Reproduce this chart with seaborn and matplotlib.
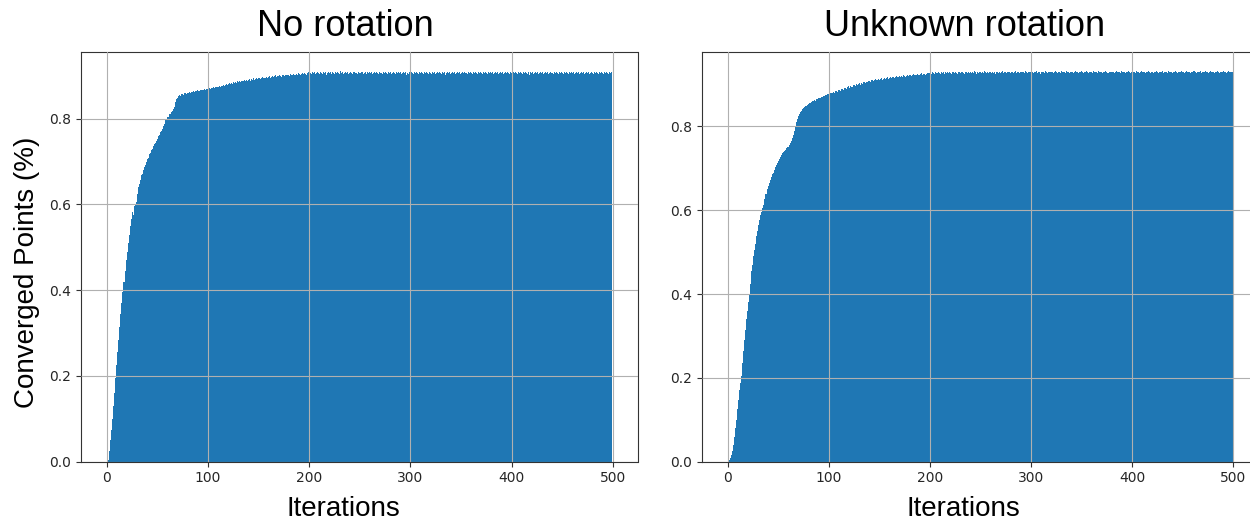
import numpy as np
import matplotlib
matplotlib.use("Agg")
import matplotlib.pyplot as plt
import seaborn as sns

# x positions of the bars (iteration index)
iterations = np.arange(500)

# share of converged points, in per-mille (20 bars per row)
no_rotation_pm = [
    0, 0, 5, 25, 50, 75, 100, 130, 160, 195, 225, 255, 285, 315, 345, 370, 395, 420, 445, 470,
    490, 510, 530, 550, 565, 582, 575, 597, 602, 606, 625, 641, 648, 657, 668, 671, 681, 687, 693, 698,
    705, 709, 717, 720, 727, 729, 736, 741, 744, 749, 752, 759, 761, 769, 771, 776, 783, 787, 796, 799,
    803, 805, 811, 812, 816, 819, 823, 827, 839, 845, 849, 853, 855, 854, 857, 858, 856, 859, 860, 858,
    861, 860, 862, 861, 863, 862, 864, 863, 865, 864, 866, 865, 864, 867, 866, 868, 867, 869, 868, 870,
    869, 871, 870, 872, 871, 873, 872, 874, 873, 875, 874, 876, 875, 877, 876, 878, 877, 879, 880, 879,
    881, 883, 880, 884, 882, 885, 883, 886, 884, 887, 885, 888, 886, 889, 887, 888, 890, 889, 891, 888,
    890, 892, 889, 893, 891, 894, 890, 893, 895, 892, 894, 896, 893, 895, 897, 894, 896, 895, 898, 896,
    897, 899, 896, 898, 900, 897, 899, 901, 898, 900, 899, 902, 900, 898, 901, 903, 900, 902, 901, 903,
    902, 900, 904, 901, 903, 905, 902, 904, 903, 906, 904, 902, 905, 907, 904, 906, 905, 903, 906, 908,
    905, 907, 904, 908, 906, 909, 905, 907, 910, 906, 904, 908, 907, 905, 909, 906, 908, 903, 907, 909,
    906, 908, 905, 910, 907, 904, 908, 906, 909, 907, 905, 911, 906, 908, 904, 907, 909, 906, 908, 905,
    907, 909, 906, 904, 908, 910, 906, 907, 905, 909, 907, 906, 910, 908, 904, 907, 909, 905, 908, 906,
    909, 906, 908, 905, 907, 910, 906, 908, 907, 904, 909, 907, 905, 908, 906, 910, 907, 905, 909, 906,
    908, 905, 907, 909, 906, 904, 908, 907, 910, 906, 908, 905, 907, 909, 906, 908, 903, 907, 905, 909,
    906, 908, 907, 905, 909, 906, 910, 907, 905, 908, 906, 909, 907, 904, 908, 906, 909, 907, 905, 908,
    907, 904, 909, 906, 908, 905, 907, 910, 906, 908, 907, 905, 909, 906, 908, 901, 907, 909, 906, 908,
    905, 907, 909, 906, 908, 904, 907, 910, 906, 908, 905, 907, 909, 906, 908, 907, 905, 909, 906, 908,
    907, 905, 908, 906, 910, 907, 904, 908, 906, 909, 907, 905, 908, 906, 910, 907, 905, 908, 906, 909,
    906, 908, 905, 907, 909, 906, 908, 904, 907, 910, 906, 908, 905, 907, 909, 906, 908, 907, 905, 909,
    907, 905, 908, 906, 909, 907, 904, 908, 906, 910, 907, 905, 908, 906, 909, 907, 905, 908, 902, 909,
    906, 908, 905, 907, 909, 906, 908, 905, 907, 910, 906, 908, 905, 907, 909, 906, 908, 904, 907, 909,
    907, 905, 908, 906, 909, 907, 905, 908, 906, 910, 907, 904, 908, 906, 909, 907, 905, 908, 906, 909,
    906, 908, 905, 907, 909, 906, 908, 905, 907, 910, 906, 908, 904, 907, 909, 906, 908, 905, 907, 909,
    907, 905, 908, 906, 909, 907, 905, 908, 906, 910, 907, 905, 908, 906, 909, 907, 904, 908, 906, 909,
]

unknown_rotation_pm = [
    0, 0, 3, 8, 15, 25, 40, 60, 80, 100, 125, 148, 170, 188, 205, 235, 265, 290, 315, 340,
    360, 380, 400, 425, 455, 470, 490, 505, 520, 538, 550, 565, 578, 588, 596, 605, 612, 628, 640, 650,
    658, 665, 672, 680, 686, 690, 697, 704, 708, 712, 718, 722, 728, 732, 736, 740, 742, 745, 748, 750,
    752, 756, 760, 765, 772, 780, 790, 800, 810, 818, 825, 830, 835, 838, 841, 844, 846, 848, 850, 852,
    853, 855, 857, 858, 860, 861, 863, 862, 865, 866, 867, 869, 868, 871, 870, 873, 872, 875, 874, 877,
    878, 876, 880, 879, 881, 883, 880, 884, 885, 883, 886, 888, 885, 889, 890, 887, 891, 893, 890, 894,
    896, 893, 897, 895, 898, 900, 897, 901, 899, 902, 903, 900, 904, 902, 905, 906, 903, 907, 905, 908,
    909, 906, 910, 912, 908, 911, 913, 910, 912, 914, 911, 913, 915, 912, 914, 916, 913, 915, 917, 914,
    916, 918, 915, 917, 919, 916, 918, 920, 917, 919, 921, 918, 920, 919, 922, 920, 918, 921, 923, 920,
    922, 924, 921, 923, 925, 922, 924, 923, 926, 924, 922, 925, 927, 924, 926, 925, 923, 926, 928, 927,
    927, 929, 926, 930, 928, 925, 929, 927, 931, 928, 926, 930, 928, 929, 926, 931, 928, 930, 927, 929,
    928, 926, 930, 929, 927, 931, 928, 925, 929, 930, 927, 929, 931, 928, 926, 930, 929, 927, 931, 928,
    929, 927, 930, 928, 932, 929, 926, 930, 928, 931, 929, 927, 930, 928, 932, 929, 927, 930, 928, 931,
    929, 927, 931, 928, 930, 926, 929, 931, 928, 930, 927, 929, 932, 928, 930, 929, 927, 931, 929, 930,
    928, 931, 929, 927, 930, 932, 928, 930, 929, 927, 931, 929, 930, 928, 932, 929, 927, 930, 929, 931,
    928, 930, 927, 931, 929, 932, 928, 930, 929, 926, 931, 929, 930, 928, 932, 930, 927, 931, 929, 930,
    929, 931, 928, 930, 932, 929, 927, 931, 930, 928, 932, 929, 931, 930, 928, 932, 929, 931, 927, 930,
    929, 931, 928, 930, 932, 929, 931, 928, 930, 929, 932, 930, 928, 931, 929, 932, 930, 928, 931, 929,
    930, 928, 932, 929, 931, 930, 928, 932, 929, 931, 930, 927, 931, 929, 932, 930, 928, 931, 929, 930,
    929, 931, 928, 930, 932, 929, 931, 930, 928, 932, 929, 931, 930, 928, 931, 929, 932, 930, 928, 931,
    929, 931, 930, 928, 932, 929, 931, 928, 930, 932, 929, 931, 930, 927, 931, 929, 932, 930, 928, 931,
    930, 928, 931, 929, 932, 930, 928, 931, 929, 930, 932, 928, 931, 929, 930, 928, 932, 929, 931, 930,
    928, 931, 929, 932, 930, 928, 931, 929, 930, 932, 929, 931, 928, 930, 932, 929, 931, 930, 928, 931,
    929, 932, 930, 928, 931, 929, 930, 932, 928, 931, 929, 930, 932, 929, 931, 928, 930, 932, 929, 931,
    930, 928, 931, 929, 932, 930, 928, 931, 929, 930, 932, 929, 931, 928, 930, 932, 929, 931, 930, 929,
]

no_rotation = np.array(no_rotation_pm) / 1000
unknown_rotation = np.array(unknown_rotation_pm) / 1000

titles = ["No rotation", "Unknown rotation"]
x_ticks = [0, 100, 200, 300, 400, 500]
y_ticks = [0.0, 0.2, 0.4, 0.6, 0.8]

sns.set_style("ticks", {"axes.edgecolor": "0.2", "xtick.color": "0.2", "ytick.color": "0.2",
                        "xtick.major.size": 3.5, "ytick.major.size": 3.5})
plt.rcParams["font.family"] = ["DejaVu Sans"]
label_font = ["Liberation Sans", "DejaVu Sans"]

fig = plt.figure(figsize=(12.5, 5.25), dpi=100)
axes_pos = [[0.0648, 0.1206, 0.4452, 0.781], [0.5614, 0.1206, 0.4452, 0.781]]
text_x = [345 / 1250, 965 / 1250]

for pos, vals, title, tx in zip(axes_pos, [no_rotation, unknown_rotation], titles, text_x):
    ax = fig.add_axes(pos)
    sns.barplot(x=iterations, y=vals, native_scale=True, width=1, color="#1f77b4",
                saturation=1, linewidth=0, errorbar=None, ax=ax)
    ax.set_xlim(-25.5, 524.5)
    ax.set_ylim(0, vals.max() * 1.05)
    ax.set_xticks(x_ticks)
    ax.set_yticks(y_ticks)
    ax.set_xticklabels([str(t) for t in x_ticks])
    ax.set_yticklabels([f"{t:.1f}" for t in y_ticks])
    ax.tick_params(labelsize=10, labelcolor="0.15")
    ax.set_xlabel("")
    ax.set_ylabel("")
    ax.set_axisbelow(False)
    ax.grid(True, color="#b0b0b0", linewidth=0.8)
    for sp in ax.spines.values():
        sp.set_linewidth(0.8)
    fig.text(tx, 1 - 36 / 525, title, fontsize=26, ha="center", va="baseline",
             family=label_font, color="black")
    fig.text(tx - 2 / 1250, 1 - 516 / 525, "Iterations", fontsize=20, ha="center", va="baseline",
             family=label_font, color="black")

fig.text(27 / 1250, 1 - 272 / 525, "Converged Points (%)", fontsize=20, rotation=90,
         ha="center", va="center", family=label_font, color="black")

fig.savefig("out.png", dpi=100)
